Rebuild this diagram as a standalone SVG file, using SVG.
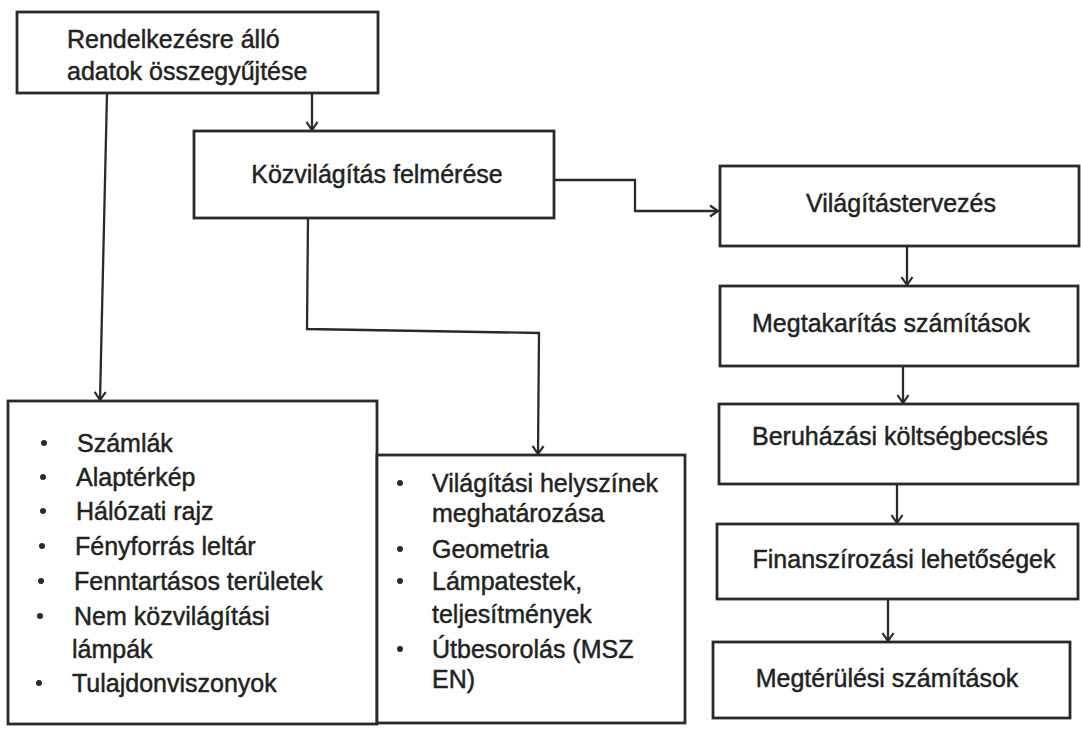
<svg xmlns="http://www.w3.org/2000/svg" width="1081" height="730" viewBox="0 0 1081 730">
<style>
.box{fill:#fff;stroke:#2a2a2a;stroke-width:2.8}
.t{font-family:"Liberation Sans",Arial,sans-serif;font-size:25px;fill:#222;stroke:#222;stroke-width:0.45}
.c{text-anchor:middle}
.con{fill:none;stroke:#2a2a2a;stroke-width:2.3}
.dot{fill:#2a2a2a}
</style>
<defs>
<marker id="arr" markerUnits="userSpaceOnUse" markerWidth="20" markerHeight="20" refX="10" refY="10" orient="auto" viewBox="0 0 20 20">
<path d="M2,4.5 L10,10 L2,15.5" fill="none" stroke="#2a2a2a" stroke-width="2.2"/>
</marker>
</defs>
<rect width="1081" height="730" fill="#fff"/>
<g id="connectors">
<path class="con" d="M312,93 L312,130" marker-end="url(#arr)"/>
<path class="con" d="M107,93 L100,400" marker-end="url(#arr)"/>
<path class="con" d="M554,180 L635,180 L635,211 L718,211" marker-end="url(#arr)"/>
<path class="con" d="M308,218 L307,329 L539,333 L538,454" marker-end="url(#arr)"/>
<path class="con" d="M907,247 L907,285" marker-end="url(#arr)"/>
<path class="con" d="M903,367 L903,403" marker-end="url(#arr)"/>
<path class="con" d="M897,485 L897,523" marker-end="url(#arr)"/>
<path class="con" d="M888,600 L888,641" marker-end="url(#arr)"/>
</g>
<g id="n1">
<rect class="box" x="17" y="12" width="361" height="81"/>
<text class="t" x="67" y="48">Rendelkezésre álló</text>
<text class="t" x="67" y="80">adatok összegyűjtése</text>
</g>
<g id="n2">
<rect class="box" x="194" y="131" width="360" height="87"/>
<text class="t c" x="377" y="183">Közvilágítás felmérése</text>
</g>
<g id="n3">
<rect class="box" x="720" y="166" width="359" height="80"/>
<text class="t c" x="901" y="212">Világítástervezés</text>
</g>
<g id="n4">
<rect class="box" x="720" y="286" width="358" height="80"/>
<text class="t c" x="891" y="332">Megtakarítás számítások</text>
</g>
<g id="n5">
<rect class="box" x="719" y="404" width="359" height="80"/>
<text class="t c" x="900" y="445">Beruházási költségbecslés</text>
</g>
<g id="n6">
<rect class="box" x="717" y="524" width="361" height="75"/>
<text class="t c" x="904" y="568">Finanszírozási lehetőségek</text>
</g>
<g id="n7">
<rect class="box" x="713" y="642" width="357" height="76"/>
<text class="t c" x="887" y="687">Megtérülési számítások</text>
</g>
<g id="n8">
<rect class="box" x="8" y="401" width="369" height="323"/>
<circle class="dot" cx="44" cy="443" r="3"/>
<circle class="dot" cx="43" cy="477" r="3"/>
<circle class="dot" cx="43" cy="511" r="3"/>
<circle class="dot" cx="42" cy="546" r="3"/>
<circle class="dot" cx="41" cy="581" r="3"/>
<circle class="dot" cx="40" cy="616" r="3"/>
<circle class="dot" cx="39" cy="683" r="3"/>
<text class="t" x="77" y="452">Számlák</text>
<text class="t" x="76" y="486">Alaptérkép</text>
<text class="t" x="76" y="520">Hálózati rajz</text>
<text class="t" x="75" y="555">Fényforrás leltár</text>
<text class="t" x="74" y="590">Fenntartásos területek</text>
<text class="t" x="74" y="625">Nem közvilágítási</text>
<text class="t" x="72" y="658">lámpák</text>
<text class="t" x="72" y="692">Tulajdonviszonyok</text>
</g>
<g id="n9">
<rect class="box" x="377" y="455" width="308" height="268"/>
<circle class="dot" cx="400" cy="483" r="3"/>
<circle class="dot" cx="400" cy="549" r="3"/>
<circle class="dot" cx="400" cy="581" r="3"/>
<circle class="dot" cx="400" cy="649" r="3"/>
<text class="t" x="432" y="492">Világítási helyszínek</text>
<text class="t" x="432" y="522">meghatározása</text>
<text class="t" x="432" y="558">Geometria</text>
<text class="t" x="432" y="590">Lámpatestek,</text>
<text class="t" x="432" y="623">teljesítmények</text>
<text class="t" x="432" y="658">Útbesorolás (MSZ</text>
<text class="t" x="432" y="688">EN)</text>
</g>
</svg>
